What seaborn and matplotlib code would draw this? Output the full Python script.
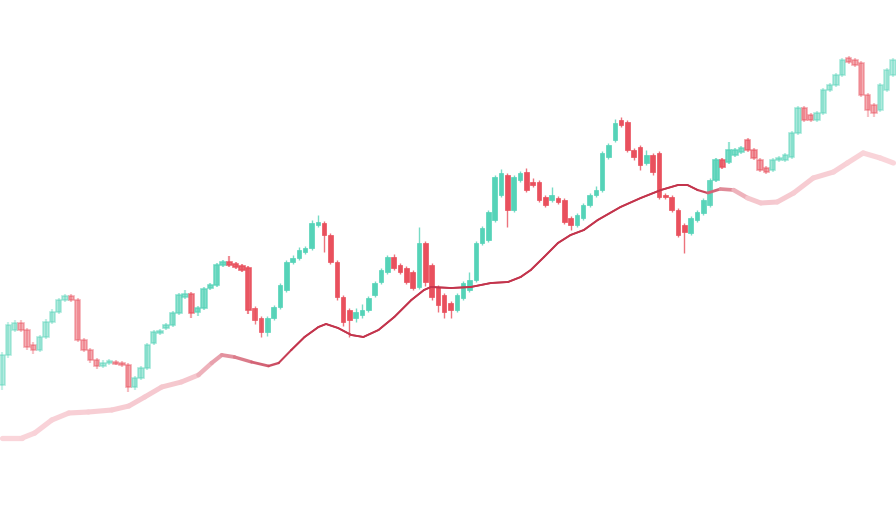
import numpy as np
import seaborn as sns
import matplotlib.pyplot as plt
from matplotlib.collections import LineCollection
from matplotlib.colors import to_rgb

sns.set_theme(style="white")

# candle values (price units), one entry per session
opens = [127, 157, 182, 189, 182, 167, 162, 175, 190, 200, 212, 216, 212, 172, 162, 152, 146, 149, 150, 149,
         147, 125, 134, 144, 169, 179, 184, 187, 199, 215, 218, 200, 204, 224, 227, 247, 250, 248, 246, 244,
         204, 194, 180, 194, 205, 222, 250, 254, 260, 264, 287, 289, 277, 250, 215, 202, 194, 197, 202, 217,
         230, 240, 255, 247, 244, 240, 225, 269, 247, 225, 217, 209, 202, 214, 222, 232, 269, 272, 292, 317,
         337, 302, 332, 340, 330, 330, 315, 312, 314, 312, 294, 287, 294, 307, 317, 322, 355, 372, 392, 390,
         362, 365, 349, 357, 359, 317, 315, 302, 287, 279, 292, 299, 307, 332, 352, 350, 357, 360, 372, 362,
         352, 344, 342, 352, 352, 355, 379, 404, 397, 392, 399, 422, 427, 437, 454, 452, 449, 417, 407, 402,
         422, 437]
closes = [157, 187, 189, 182, 165, 162, 175, 190, 200, 212, 216, 212, 172, 162, 152, 146, 149, 150, 149, 147,
          125, 134, 144, 167, 180, 181, 187, 199, 217, 218, 199, 204, 223, 227, 247, 250, 247, 245, 242, 202,
          192, 180, 194, 205, 227, 250, 254, 262, 264, 289, 290, 277, 250, 215, 190, 192, 200, 202, 214, 229,
          242, 255, 244, 240, 230, 224, 269, 230, 215, 207, 200, 202, 217, 229, 232, 269, 284, 300, 335, 339,
          302, 335, 339, 322, 327, 312, 307, 317, 310, 290, 287, 297, 307, 317, 322, 359, 367, 389, 387, 362,
          355, 347, 357, 340, 315, 315, 302, 277, 280, 294, 300, 312, 332, 352, 345, 362, 362, 364, 362, 354,
          342, 340, 352, 354, 357, 379, 404, 392, 392, 399, 422, 427, 437, 452, 450, 447, 417, 402, 399, 427,
          442, 452]
highs = [160, 190, 192, 192, 184, 170, 177, 193, 203, 214, 218, 218, 214, 174, 164, 154, 152, 153, 152, 151,
         149, 136, 146, 169, 182, 183, 189, 201, 219, 222, 220, 206, 225, 229, 249, 252, 256, 250, 248, 246,
         206, 196, 196, 207, 229, 252, 257, 265, 266, 292, 297, 291, 279, 252, 217, 204, 204, 208, 216, 231,
         244, 257, 258, 249, 246, 242, 285, 271, 249, 227, 219, 211, 219, 231, 240, 271, 286, 302, 337, 343,
         339, 337, 341, 344, 334, 332, 317, 325, 316, 314, 296, 299, 309, 319, 326, 361, 369, 393, 395, 392,
         364, 367, 362, 359, 361, 319, 317, 304, 289, 296, 302, 314, 334, 354, 354, 370, 364, 366, 374, 364,
         354, 346, 354, 356, 359, 381, 406, 406, 399, 401, 424, 429, 439, 454, 456, 454, 451, 419, 409, 429,
         444, 454]
lows = [122, 154, 180, 180, 162, 158, 160, 173, 188, 198, 210, 210, 170, 160, 149, 143, 144, 147, 147, 145,
        120, 122, 132, 142, 167, 177, 182, 185, 197, 213, 194, 196, 202, 222, 225, 245, 245, 243, 240, 198,
        188, 175, 176, 192, 203, 220, 248, 252, 258, 262, 285, 260, 248, 212, 186, 175, 190, 194, 200, 215,
        228, 238, 242, 238, 228, 222, 223, 226, 212, 200, 194, 194, 200, 212, 220, 230, 267, 270, 290, 315,
        285, 300, 330, 320, 325, 310, 305, 310, 308, 288, 282, 285, 292, 305, 315, 320, 353, 370, 385, 360,
        352, 342, 347, 337, 313, 313, 300, 275, 259, 277, 290, 297, 305, 330, 343, 348, 355, 358, 360, 352,
        340, 338, 340, 350, 350, 353, 377, 390, 390, 390, 397, 420, 425, 435, 448, 445, 415, 395, 395, 400,
        420, 435]

# moving average, read at session positions
ma_pos = [0, 3.2, 5.2, 7.9, 10.6, 13.7, 17.4, 20.1, 22.6, 25.3, 28.4, 31.1, 33.2, 34.8, 36.8, 39.5,
          42.2, 43.8, 45.8, 47.9, 50.1, 51.3, 53.2, 55.3, 57.2, 59.6, 62.1, 64.8, 66.8, 67.9, 71.1,
          74.2, 77.4, 80.1, 82.1, 83.7, 85.8, 88, 90, 92.1, 94.3, 97.9, 101.1, 104.3, 107, 108.5,
          110.1, 111.7, 113.7, 115.8, 118, 120.1, 122.7, 125.3, 128.4, 131.6, 133.8, 136.3, 139, 141.1]
ma_val = [74, 74, 79, 92, 99, 100, 102, 106, 115, 125, 130, 137, 149, 157, 155, 150,
          146, 149, 162, 175, 185, 188, 184, 177, 175, 182, 195, 212, 222, 225, 224,
          225, 229, 230, 235, 242, 255, 269, 277, 282, 292, 305, 314, 322, 327, 327,
          322, 319, 323, 322, 314, 309, 310, 319, 334, 340, 349, 359, 354, 349]

UP = "#55d3b8"
DOWN = "#e9505d"
MA_DARK = "#c3344c"
MA_PALE = "#fad6db"

fig = plt.figure(figsize=(8.96, 5.12), dpi=100)
ax = fig.add_axes([0, 0, 1, 1])
ax.set_facecolor("white")

n = len(opens)
idx = np.arange(n)
o = np.array(opens)
c = np.array(closes)
# depth-of-field look: sharp in the middle, faded towards both sides
focus = [0, 22, 44, 110, 120, 141]
sharp = [0.42, 0.48, 1.0, 1.0, 0.52, 0.42]
fade = np.interp(idx, focus, sharp)

for i in idx:
    col = UP if c[i] >= o[i] else DOWN
    a = fade[i]
    lw = 1.0 if a > 0.9 else 1.6
    ax.vlines(i, lows[i], highs[i], color=col, alpha=a * 0.8, lw=lw)
    h = c[i] - o[i]
    if abs(h) < 2:
        h = 2 if h >= 0 else -2
    ax.bar(i, h, bottom=o[i], width=0.72 if a > 0.9 else 0.85, color=col, alpha=a,
           edgecolor=col, linewidth=0.5 if a > 0.9 else 1.2)

# moving average: pale and wide where out of focus, thin and dark in focus
mp = np.array(ma_pos)
mv = np.array(ma_val)
pts = np.column_stack([mp, mv])
segs = np.stack([pts[:-1], pts[1:]], axis=1)
mid_x = (mp[:-1] + mp[1:]) / 2
s = np.clip(np.interp(mid_x, [0, 30, 46, 110, 118, 141], [0, 0.1, 1, 1, 0.1, 0]), 0, 1)
dark = np.array(to_rgb(MA_DARK))
pale = np.array(to_rgb(MA_PALE))
cols = [tuple(pale + (dark - pale) * v) for v in s]
widths = 3.8 - 2.5 * s
lc = LineCollection(segs, colors=cols, linewidths=widths, capstyle="round", joinstyle="round")
ax.add_collection(lc)

core = (mp >= 45.8) & (mp <= 110.1)
sns.lineplot(x=mp[core], y=mv[core], ax=ax, color=MA_DARK, lw=1.3, sort=False)

ax.set_xlim(-0.3, 141.5)
ax.set_ylim(0, 512)
ax.axis("off")

fig.savefig("out.png", dpi=100, facecolor="white")
